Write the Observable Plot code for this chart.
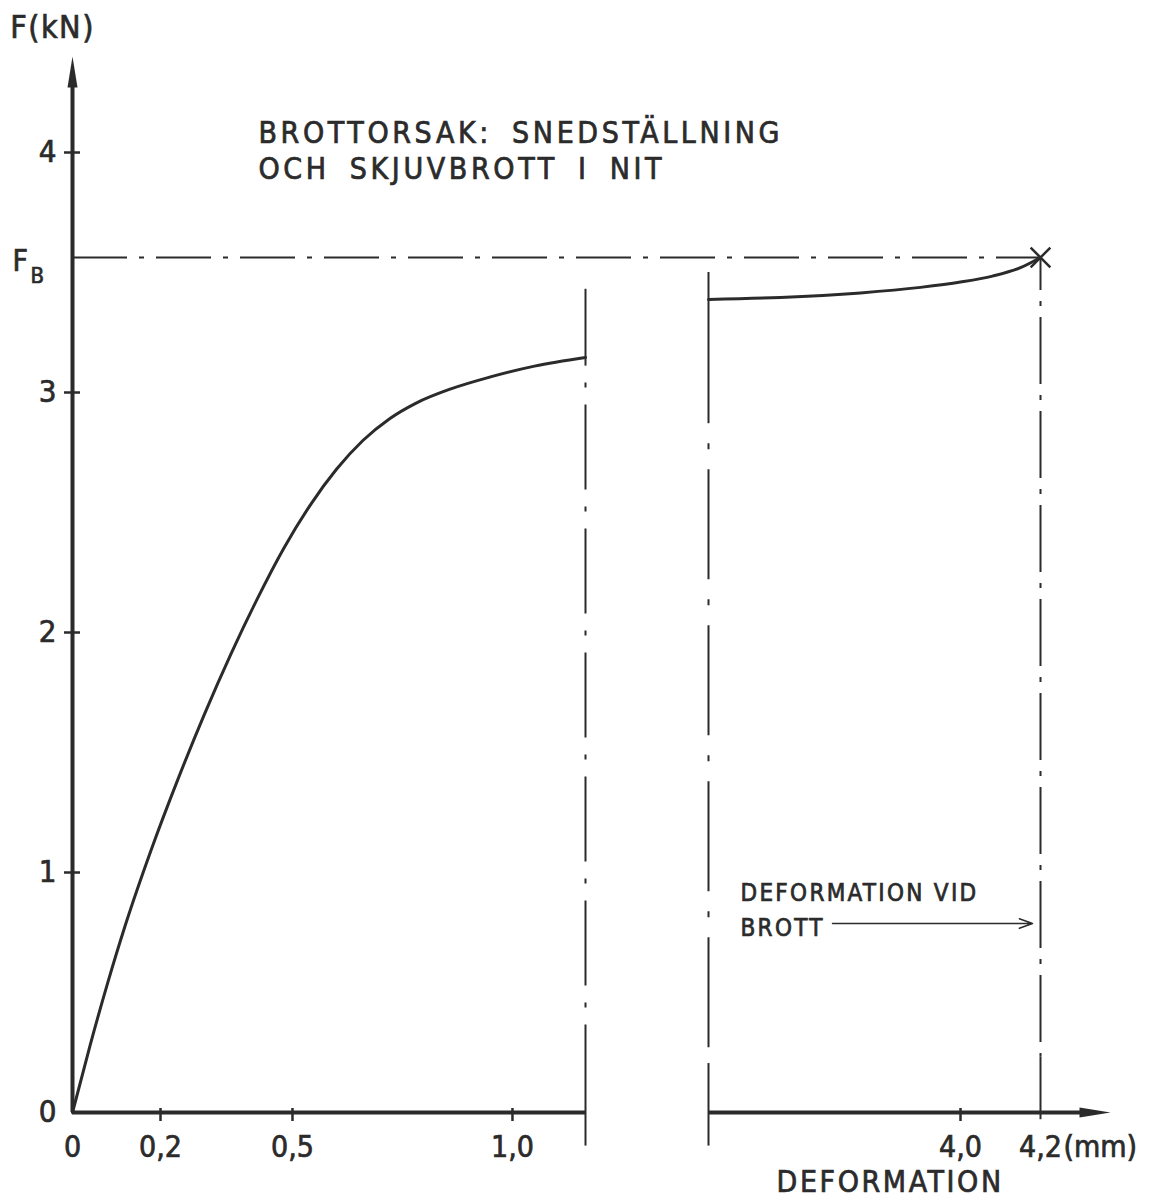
<!DOCTYPE html>
<html>
<head>
<meta charset="utf-8">
<script src="https://cdn.jsdelivr.net/npm/d3@7"></script>
<script src="https://cdn.jsdelivr.net/npm/@observablehq/plot@0.6"></script>
<style>
  body { margin: 0; background: #fff; }
  #chart svg { display: block; }
  /* heavier stencil-like lettering */
  #chart text { stroke: #2b2b2b; stroke-width: 0.7px; }
</style>
</head>
<body>
<div id="chart"></div>
<script>
// Force–deformation curve of a riveted joint (F in kN, deformation in mm).
// The deformation axis is broken between about 1.17 mm and 3.37 mm.

// Loading branch up to the axis break
const leftDeformation = [0, 0.04, 0.08, 0.12, 0.18, 0.24, 0.30, 0.36, 0.42, 0.48, 0.54, 0.60, 0.66, 0.72, 0.78, 0.86, 0.95, 1.05, 1.166];
const leftForce       = [0, 0.28, 0.54, 0.78, 1.10, 1.39, 1.66, 1.91, 2.14, 2.35, 2.53, 2.68, 2.80, 2.89, 2.955, 3.015, 3.065, 3.11, 3.146];

// Branch after the axis break, ending at failure
const rightDeformation = [3.37, 3.55, 3.75, 3.90, 4.00, 4.08, 4.15, 4.20];
const rightForce       = [3.388, 3.396, 3.415, 3.438, 3.46, 3.485, 3.52, 3.5625];

const failureForce = 3.5625;       // F_B
const failureDeformation = 4.2;    // deformation at failure

// Axis break, axis extents
const axisBreak = [1.166, 3.37];
const xMax = 4.375;
const yMax = 4.4;

// Tick values and labels
const xTickValues = [0, 0.2, 0.5, 1.0, 4.0, 4.2];
const xTickLabels = ["0", "0,2", "0,5", "1,0", "4,0", "4,2"];
const yTickValues = [0, 1, 2, 3, 4];
const yTickLabels = ["0", "1", "2", "3", "4"];

// Extents of the break lines and the failure line (kN):
// solid at the top and bottom, dash-dot in between
const breakTop = [3.43, 3.50];
const breakSolidEnd = [3.11, 2.87];
const breakSolidRestart = [0.3125, 0.204];
const breakBottom = -0.14;
const failureSolidEnd = 3.425;
const failureSolidRestart = 0.23;
const failureBottom = -0.03;

// Text anchors (data units)
const titleLines = ["BROTTORSAK: SNEDSTÄLLNING", "OCH SKJUVBROTT I NIT"];
const titleAt = [0.4227, 4.0125];
const noteLines = ["DEFORMATION VID", "BROTT"];
const noteAt = [3.45, 0.856];
const noteArrow = [{x1: 3.68, x2: failureDeformation, y: 0.7875}];
const xTitle = "DEFORMATION";
const xTitleAt = [3.824, -0.29];
const yTitle = "F(kN)";
const unitLabel = "(mm)";

const leftCurve = leftDeformation.map((d, i) => ({d, f: leftForce[i]}));
const rightCurve = rightDeformation.map((d, i) => ({d, f: rightForce[i]}));
const xTicks = xTickValues.map((v, i) => ({v, label: xTickLabels[i]}));
const yTicks = yTickValues.map((v, i) => ({v, label: yTickLabels[i]}));

const ink = "#2b2b2b";
const font = "'DejaVu Sans Condensed', 'DejaVu Sans', sans-serif";

// Narrow filled arrowhead, tip at the anchor, pointing up
const arrowHead = {
  draw(context) {
    context.moveTo(0, 0);
    context.lineTo(5, 31);
    context.lineTo(-5, 31);
    context.closePath();
  }
};

const thin = {stroke: ink, strokeWidth: 2};

const chart = Plot.plot({
  width: 1152,
  height: 1197,
  style: {fontFamily: font, color: ink, background: "#fff", overflow: "visible"},
  x: {type: "linear", domain: [0, axisBreak[0], axisBreak[1], xMax], range: [72, 585, 708, 1110], axis: null},
  y: {type: "linear", domain: [0, yMax], range: [1112, 56], axis: null},
  marks: [
    // F_B level, dash-dot
    Plot.ruleY([failureForce], {x1: 0, x2: failureDeformation, ...thin, strokeDasharray: "55,12,5,12"}),

    // Break lines
    Plot.ruleX([0, 1], {x: (i) => axisBreak[i], y1: (i) => breakTop[i], y2: (i) => breakSolidEnd[i], ...thin}),
    Plot.ruleX([0, 1], {x: (i) => axisBreak[i], y1: (i) => breakSolidRestart[i], y2: breakBottom, ...thin}),
    Plot.ruleX([0], {x: (i) => axisBreak[i], y1: (i) => breakSolidEnd[i], y2: (i) => breakSolidRestart[i], ...thin, strokeDasharray: "85,17,5,17", strokeDashoffset: 85}),
    Plot.ruleX([1], {x: (i) => axisBreak[i], y1: (i) => breakSolidEnd[i], y2: (i) => breakSolidRestart[i], ...thin, strokeDasharray: "110,20,6,20", strokeDashoffset: 110}),

    // Deformation at failure
    Plot.ruleX([failureDeformation], {y1: failureForce, y2: failureSolidEnd, ...thin}),
    Plot.ruleX([failureDeformation], {y1: failureSolidRestart, y2: failureBottom, ...thin}),
    Plot.ruleX([failureDeformation], {y1: failureSolidEnd, y2: failureSolidRestart, ...thin, strokeDasharray: "67,11,5,11", strokeDashoffset: 67}),

    // Axes
    Plot.ruleX([0], {y1: yMax, y2: 0, insetTop: 20, stroke: ink, strokeWidth: 4}),
    Plot.ruleY([0], {x1: 0, x2: axisBreak[0], stroke: ink, strokeWidth: 4}),
    Plot.ruleY([0], {x1: axisBreak[1], x2: xMax, insetRight: 20, stroke: ink, strokeWidth: 4}),
    Plot.dot([0], {x: 0, y: yMax, symbol: arrowHead, fill: ink, stroke: "none"}),
    Plot.dot([0], {x: xMax, y: 0, symbol: arrowHead, rotate: 90, fill: ink, stroke: "none"}),

    // Tick marks
    Plot.ruleY(yTicks.filter((t) => t.v > 0), {y: "v", x1: 0, x2: 0, insetLeft: -8, insetRight: -8, stroke: ink, strokeWidth: 2.5}),
    Plot.ruleX(xTicks.filter((t) => t.v > 0 && t.v < failureDeformation), {x: "v", y1: 0, y2: 0, insetTop: -4, insetBottom: -9, stroke: ink, strokeWidth: 2.5}),

    // Tick labels
    Plot.text(yTicks, {x: 0, y: "v", text: "label", textAnchor: "end", dx: -16, fontSize: 31, fill: ink}),
    Plot.text(xTicks, {x: "v", y: 0, text: "label", dy: 35, fontSize: 30, fill: ink}),
    Plot.text([unitLabel], {x: failureDeformation, y: 0, text: (d) => d, textAnchor: "start", dx: 23, dy: 35, fontSize: 30, fill: ink}),

    // Axis titles
    Plot.text([yTitle], {x: 0, y: yMax, text: (d) => d, dx: -20, dy: -29, fontSize: 32, fill: ink, ariaDescription: "ytitle"}),
    Plot.text([xTitle], {x: xTitleAt[0], y: xTitleAt[1], text: (d) => d, fontSize: 30, fill: ink, ariaDescription: "xtitle"}),
    Plot.text(["F"], {x: 0, y: failureForce, text: (d) => d, textAnchor: "start", dx: -60, dy: 4, fontSize: 30, fill: ink}),
    Plot.text(["B"], {x: 0, y: failureForce, text: (d) => d, textAnchor: "start", dx: -42, dy: 18, fontSize: 22, fill: ink}),

    // Curves
    Plot.line(leftCurve, {x: "d", y: "f", curve: "monotone-x", stroke: ink, strokeWidth: 3}),
    Plot.line(rightCurve, {x: "d", y: "f", curve: "monotone-x", stroke: ink, strokeWidth: 3}),
    Plot.dot([0], {x: failureDeformation, y: failureForce, symbol: "times", r: 9, stroke: ink, strokeWidth: 2.5}),

    // Title and note
    Plot.text([titleLines.join("\n")], {x: titleAt[0], y: titleAt[1], text: (d) => d, textAnchor: "start", lineAnchor: "middle", lineHeight: 1.2, fontSize: 30, fill: ink, ariaDescription: "title"}),
    Plot.text([noteLines.join("\n")], {x: noteAt[0], y: noteAt[1], text: (d) => d, textAnchor: "start", lineAnchor: "middle", lineHeight: 1.46, fontSize: 24, fill: ink, ariaDescription: "note"}),
    Plot.arrow(noteArrow, {x1: "x1", x2: "x2", y1: "y", y2: "y", insetEnd: 8, headLength: 14, headAngle: 40, stroke: ink, strokeWidth: 1.5})
  ]
});

// Stencil-style lettering is widely spaced
const svg = d3.select(chart);
svg.select("g[aria-description=title]").attr("letter-spacing", 3.6).attr("word-spacing", 8);
svg.select("g[aria-description=note]").attr("letter-spacing", 2.3);
svg.select("g[aria-description=xtitle]").attr("letter-spacing", 2.6);
svg.select("g[aria-description=ytitle]").attr("letter-spacing", 1.5);
document.getElementById("chart").appendChild(chart);
</script>
</body>
</html>
